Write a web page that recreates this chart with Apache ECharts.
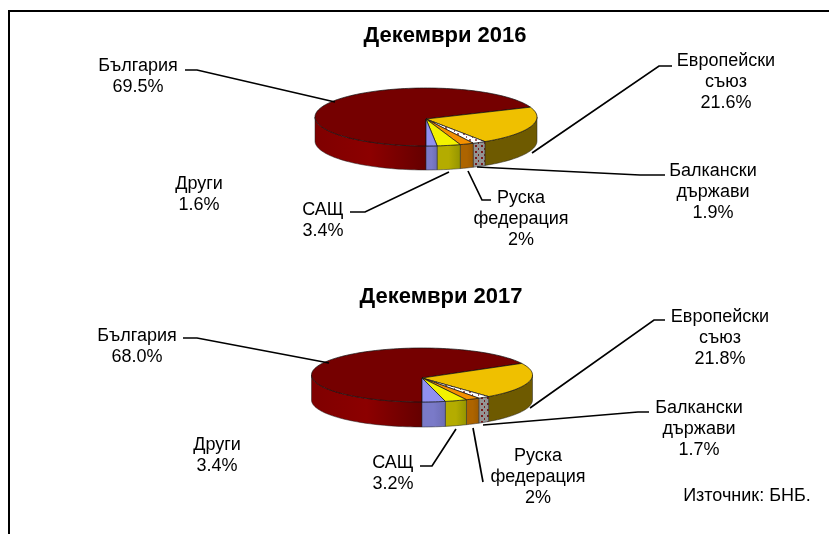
<!DOCTYPE html>
<html>
<head>
<meta charset="utf-8">
<style>
    html, body { margin: 0; padding: 0; background: #fff; }
    #chart { width: 829px; height: 534px; }
</style>
<script src="https://cdn.jsdelivr.net/npm/echarts@6/dist/echarts.min.js"></script>
</head>
<body>
<div id="chart"></div>
<script>
// slices go clockwise from 6 o'clock, same order in both years
var categories = ['България', 'Европейски\nсъюз', 'Балкански\nдържави', 'Руска\nфедерация', 'САЩ', 'Други'];
var values2016 = [69.5, 21.6, 1.9, 2, 3.4, 1.6];
var values2017 = [68.0, 21.8, 1.7, 2, 3.2, 3.4];
var valueLabels2016 = ['69.5%', '21.6%', '1.9%', '2%', '3.4%', '1.6%'];
var valueLabels2017 = ['68.0%', '21.8%', '1.7%', '2%', '3.2%', '3.4%'];
var titles = ['Декември 2016', 'Декември 2017'];
var sourceText = 'Източник: БНБ.';

var font = '"Liberation Sans", Arial, sans-serif';

function makePattern(bg, dot) {
    var c = document.createElement('canvas');
    c.width = 6;
    c.height = 6;
    var g = c.getContext('2d');
    g.fillStyle = bg;
    g.fillRect(0, 0, 6, 6);
    g.fillStyle = dot;
    g.fillRect(1, 1, 2, 2);
    g.fillRect(4, 4, 1, 2);
    return {image: c, repeat: 'repeat'};
}

var topColors = ['#750000', '#efc000', makePattern('#ffffff', '#a06060'), '#f59000', '#f2f200', '#9090f0'];
var sideColors = [
    ['#7f0000', '#8c0000', '#650000'], ['#6e5a00', '#6e5a00', '#6e5a00'], makePattern('#949494', '#7a1a1a'),
    ['#ad6400', '#ad6400', '#9c5a00'], ['#b4ac00', '#b4ac00', '#949400'], ['#7a7ac8', '#7a7ac8', '#6c6cb4']
];

function sideFill(c) {
    if (!Array.isArray(c)) return c;
    return new echarts.graphic.LinearGradient(0, 0, 1, 0, [
        {offset: 0, color: c[0]}, {offset: 0.5, color: c[1]}, {offset: 1, color: c[2]}
    ]);
}

// squashed pie, angles measured clockwise from 12 o'clock
function ellipsePoint(p, deg, dy) {
    var a = deg * Math.PI / 180;
    return [p.cx + p.rx * Math.sin(a), p.cy - p.ry * Math.cos(a) + (dy || 0)];
}

function arcPoints(p, from, to, dy) {
    var pts = [];
    var n = Math.max(2, Math.ceil((to - from) / 2));
    for (var i = 0; i <= n; i++) {
        pts.push(ellipsePoint(p, from + (to - from) * i / n, dy));
    }
    return pts;
}

function pieItem(p) {
    return function (params, api) {
        var i = params.dataIndex;
        var values = p.values;
        var total = values.reduce(function (s, v) { return s + v; }, 0);
        var before = 0;
        for (var k = 0; k < i; k++) before += values[k];
        var from = 180 + before / total * 360;
        var to = from + values[i] / total * 360;
        var children = [];
        // the wall shows only between 3 and 9 o'clock
        [[90, 270], [450, 630]].forEach(function (front) {
            var a = Math.max(from, front[0]), b = Math.min(to, front[1]);
            if (b <= a) return;
            var pts = arcPoints(p, a, b, 0).concat(arcPoints(p, a, b, p.depth).reverse());
            children.push({
                type: 'polygon',
                shape: {points: pts},
                style: {fill: sideFill(sideColors[i]), stroke: '#222', lineWidth: 0.5}
            });
        });
        var topPts = [[p.cx, p.apexY]].concat(arcPoints(p, from, to, 0));
        children.push({
            type: 'polygon',
            z2: 5,
            shape: {points: topPts},
            style: {fill: topColors[i], stroke: '#111', lineWidth: 0.7}
        });
        return {type: 'group', children: children};
    };
}

var pies = [
    {values: values2016, cx: 426, cy: 117, apexY: 119, rx: 111, ry: 29, depth: 24},
    {values: values2017, cx: 422, cy: 375, apexY: 378, rx: 110.5, ry: 27, depth: 25}
];

var series = pies.map(function (p) {
    return {
        type: 'custom',
        coordinateSystem: 'none',
        silent: true,
        animation: false,
        data: p.values,
        renderItem: pieItem(p)
    };
});

// leader lines and label spots, by year and slice
var labelLayout2016 = [
    {x: 138, y: 56, line: [[185, 70], [197, 70], [335, 102]]},
    {x: 726, y: 51, line: [[672, 66], [659, 66], [532, 153]]},
    {x: 713, y: 161, line: [[665, 175], [640, 175], [477, 167]]},
    {x: 521, y: 188, line: [[468, 171], [482, 200], [491, 200]]},
    {x: 323, y: 200, line: [[449, 172], [365, 212], [350, 212]]},
    {x: 199, y: 174, line: null}
];
var labelLayout2017 = [
    {x: 137, y: 326, line: [[183, 338], [197, 338], [329, 363]]},
    {x: 720, y: 307, line: [[665, 320], [654, 320], [530, 408]]},
    {x: 699, y: 398, line: [[649, 412], [638, 412], [483, 425]]},
    {x: 538, y: 446, line: [[473, 428], [483, 482]]},
    {x: 393, y: 453, line: [[456, 429], [432, 466], [420, 466]]},
    {x: 217, y: 435, line: null}
];

var graphics = [
    {type: 'polyline', silent: true, shape: {points: [[829, 11], [9, 11], [9, 534]]}, style: {fill: 'none', stroke: '#000', lineWidth: 2}},
    {type: 'text', x: 445, y: 36, style: {text: titles[0], font: 'bold 22px ' + font, fill: '#000', textAlign: 'center', textVerticalAlign: 'middle'}},
    {type: 'text', x: 441, y: 297, style: {text: titles[1], font: 'bold 22px ' + font, fill: '#000', textAlign: 'center', textVerticalAlign: 'middle'}},
    {type: 'text', x: 747, y: 496, style: {text: sourceText, font: '18px ' + font, fill: '#000', textAlign: 'center', textVerticalAlign: 'middle'}}
];

function addLabels(layout, valueLabels) {
    layout.forEach(function (l, i) {
        graphics.push({
            type: 'text',
            x: l.x,
            y: l.y,
            z: 10,
            style: {
                text: categories[i] + '\n' + valueLabels[i],
                font: '18px ' + font,
                lineHeight: 21,
                fill: '#000',
                textAlign: 'center',
                textVerticalAlign: 'top'
            }
        });
        if (l.line) {
            graphics.push({
                type: 'polyline',
                z: 10,
                silent: true,
                shape: {points: l.line},
                style: {fill: 'none', stroke: '#000', lineWidth: 1.7}
            });
        }
    });
}
addLabels(labelLayout2016, valueLabels2016);
addLabels(labelLayout2017, valueLabels2017);

var chart = echarts.init(document.getElementById('chart'));
chart.setOption({
    animation: false,
    backgroundColor: '#fff',
    series: series,
    graphic: {elements: graphics}
});
</script>
</body>
</html>
